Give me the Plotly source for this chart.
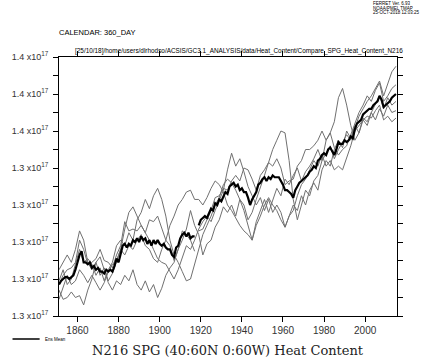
import plotly.graph_objects as go

# ---------------- data (heat content, units of 1e17 J) ----------------
YEARS_MEAN = list(range(1851, 2016))
ENS_MEAN = [
    1.277, 1.279, 1.280, 1.281, 1.281, 1.280, 1.281, 1.282, 1.285, 1.289,
    1.293, 1.295, 1.289, 1.289, 1.288, 1.289, 1.286, 1.287, 1.285, 1.286,
    1.284, 1.284, 1.283, 1.285, 1.284, 1.285, 1.284, 1.287, 1.291, 1.289,
    1.294, 1.298, 1.299, 1.297, 1.299, 1.298, 1.301, 1.300, 1.302, 1.300,
    1.303, 1.301, 1.302, 1.299, 1.301, 1.298, 1.301, 1.299, 1.301, 1.299,
    1.298, 1.299, 1.297, 1.296, 1.296, 1.293, 1.292, 1.297, 1.298, 1.302,
    1.304, 1.305, 1.303, 1.305, 1.302, 1.303, 1.303, None, 1.309, 1.312,
    1.313, 1.314, 1.313, 1.316, 1.318, 1.317, 1.321, 1.320, 1.323, 1.322,
    1.325, 1.327, 1.326, 1.330, 1.331, 1.332, 1.330, 1.331, 1.328, 1.329,
    1.327, 1.327, 1.324, 1.320, 1.323, 1.325, 1.327, 1.331, 1.332, 1.334,
    1.335, 1.333, 1.335, 1.334, 1.336, 1.335, 1.335, 1.335, 1.333, 1.331,
    1.328, 1.328, 1.327, 1.326, 1.324, 1.328, 1.330, 1.332, 1.333, 1.334,
    1.335, 1.336, 1.338, 1.339, 1.341, 1.340, 1.344, 1.345, 1.347, 1.348,
    1.347, 1.350, 1.351, 1.349, 1.347, 1.350, 1.354, 1.353, 1.353, 1.355,
    1.354, 1.355, 1.357, 1.356, 1.361, 1.364, 1.365, 1.366, 1.369, 1.370,
    1.371, 1.372, 1.372, 1.374, 1.375, 1.376, 1.379, 1.377, 1.373, 1.374,
    1.375, 1.376, 1.378, 1.379, 1.380,
]

YEARS_MEMBER = list(range(1851, 2016, 2))
MEMBER_1 = [
    1.285, 1.289, 1.293, 1.289, 1.296, 1.306, 1.301, 1.289, 1.285, 1.289,
    1.282, 1.286, 1.279, 1.283, 1.289, 1.296, 1.307, 1.316, 1.319, 1.314,
    1.309, 1.305, 1.301, 1.296, 1.291, 1.289, 1.288, 1.284, 1.280, 1.285,
    1.291, 1.298, 1.296, 1.301, 1.307, 1.311, 1.314, 1.311, 1.317, 1.323,
    1.328, 1.339, 1.348, 1.341, 1.345, 1.338, 1.330, 1.325, 1.320, 1.324,
    1.317, 1.323, 1.316, 1.320, 1.316, 1.308, 1.314, 1.320, 1.317, 1.325,
    1.320, 1.328, 1.332, 1.328, 1.339, 1.344, 1.341, 1.350, 1.355, 1.351,
    1.360, 1.356, 1.363, 1.359, 1.367, 1.365, 1.370, 1.366, 1.372, 1.368,
    1.374, 1.370, 1.371,
]
MEMBER_2 = [
    1.274, 1.269, 1.270, 1.273, 1.270, 1.271, 1.266, 1.274, 1.280, 1.289,
    1.292, 1.285, 1.278, 1.274, 1.279, 1.277, 1.282, 1.279, 1.285, 1.277,
    1.274, 1.279, 1.273, 1.277, 1.270, 1.275, 1.282, 1.286, 1.289, 1.296,
    1.301, 1.307, 1.317, 1.309, 1.304, 1.293, 1.299, 1.301, 1.308, 1.312,
    1.319, 1.316, 1.320, 1.314, 1.323, 1.317, 1.309, 1.301, 1.311, 1.317,
    1.323, 1.316, 1.323, 1.329, 1.325, 1.334, 1.331, 1.336, 1.340, 1.333,
    1.338, 1.341, 1.345, 1.350, 1.344, 1.355, 1.359, 1.365, 1.378, 1.383,
    1.374, 1.363, 1.355, 1.359, 1.366, 1.363, 1.370, 1.375, 1.379, 1.372,
    1.378, 1.374, 1.376,
]
MEMBER_3 = [
    1.279, 1.285, 1.277, 1.280, 1.288, 1.296, 1.289, 1.291, 1.288, 1.282,
    1.286, 1.279, 1.285, 1.289, 1.298, 1.301, 1.298, 1.305, 1.301, 1.312,
    1.316, 1.323, 1.318, 1.325, 1.329, 1.323, 1.314, 1.301, 1.293, 1.289,
    1.284, 1.279, 1.280, 1.288, 1.296, 1.304, 1.309, 1.314, 1.320, 1.324,
    1.331, 1.334, 1.332, 1.328, 1.323, 1.320, 1.312, 1.316, 1.323, 1.329,
    1.336, 1.343, 1.350, 1.355, 1.360, 1.359, 1.344, 1.323, 1.312, 1.320,
    1.328, 1.325, 1.333, 1.336, 1.344, 1.348, 1.352, 1.345, 1.350, 1.354,
    1.358, 1.355, 1.361, 1.368, 1.372, 1.376, 1.379, 1.383, 1.387, 1.379,
    1.385, 1.392, 1.395,
]
MEMBER_4 = [
    1.269, 1.275, 1.282, 1.277, 1.279, 1.285, 1.282, 1.278, 1.282, 1.278,
    1.274, 1.278, 1.284, 1.288, 1.290, 1.296, 1.293, 1.298, 1.296, 1.301,
    1.304, 1.298, 1.296, 1.291, 1.289, 1.296, 1.301, 1.309, 1.314, 1.320,
    1.323, 1.327, 1.328, 1.323, 1.323, 1.320, 1.324, 1.329, 1.333, 1.331,
    1.327, 1.320, 1.317, 1.313, 1.309, 1.306, 1.304, 1.301, 1.309, 1.314,
    1.320, 1.324, 1.320, 1.317, 1.312, 1.308, 1.314, 1.317, 1.325, 1.331,
    1.334, 1.339, 1.344, 1.341, 1.347, 1.341, 1.344, 1.339, 1.341, 1.339,
    1.345, 1.352, 1.360, 1.363, 1.366, 1.368, 1.367, 1.371, 1.374, 1.366,
    1.368, 1.365, 1.367,
]
YEARS_MEMBER_5 = list(range(1851, 1918, 2)) + [1918] + list(range(1919, 2016, 2))
MEMBER_5 = [
    1.277, 1.282, 1.285, 1.286, 1.289, 1.301, 1.296, 1.288, 1.289, 1.291,
    1.296, 1.290, 1.289, 1.286, 1.293, 1.298, 1.311, 1.306, 1.307, 1.306,
    1.309, 1.305, 1.312, 1.311, 1.314, 1.307, 1.301, 1.298, 1.290, 1.296,
    1.306, 1.304, 1.301, 1.295, None,
    1.306, 1.307, 1.312, 1.317, 1.324, 1.325,
    1.329, 1.328, 1.333, 1.336, 1.333, 1.340, 1.339, 1.334, 1.328, 1.336,
    1.339, 1.343, 1.341, 1.345, 1.340, 1.331, 1.333, 1.334, 1.341, 1.344,
    1.350, 1.350, 1.352, 1.355, 1.360, 1.355, 1.359, 1.351, 1.347, 1.350,
    1.352, 1.358, 1.365, 1.370, 1.374, 1.379, 1.376, 1.382, 1.386, 1.376,
    1.379, 1.383, 1.385,
]

X_TICKS = [1860, 1880, 1900, 1920, 1940, 1960, 1980, 2000]
Y_TICKS = [1.26, 1.28, 1.30, 1.32, 1.34, 1.36, 1.38, 1.40]
Y_TICK_TEXT = ["1.3 x10<sup>17</sup>"] * 5 + ["1.4 x10<sup>17</sup>"] * 3

# ---------------- figure ----------------
W, H = 421, 358
L, R, T, B = 48, 24, 57, 42
PW, PH = W - L - R, H - T - B


def px_x(px):
    return (px - L) / PW


def px_y(py):
    return (H - B - py) / PH


fig = go.Figure()
grey = "#707070"
for yrs, vals in [(YEARS_MEMBER, MEMBER_1), (YEARS_MEMBER, MEMBER_2),
                  (YEARS_MEMBER, MEMBER_3), (YEARS_MEMBER, MEMBER_4),
                  (YEARS_MEMBER_5, MEMBER_5)]:
    fig.add_trace(go.Scatter(x=yrs, y=vals, mode="lines",
                             line=dict(color=grey, width=1),
                             connectgaps=False, showlegend=False, hoverinfo="skip"))
fig.add_trace(go.Scatter(x=YEARS_MEAN, y=ENS_MEAN, mode="lines",
                         line=dict(color="black", width=2.2),
                         connectgaps=False, showlegend=False, name="Ens Mean"))

small = "Liberation Sans, Arial, sans-serif"
tick_font = dict(family=small, size=10, color="#333")

fig.update_layout(
    width=W, height=H,
    margin=dict(l=L, r=R, t=T, b=B, pad=0),
    paper_bgcolor="white", plot_bgcolor="white",
    showlegend=False,
    xaxis=dict(range=[1851, 2015.5], tickvals=X_TICKS, ticks="outside", ticklen=5,
               tickcolor="black", showline=True, linecolor="black", linewidth=1,
               mirror="ticks", showgrid=False, zeroline=False, tickfont=tick_font),
    yaxis=dict(range=[1.26, 1.40], tickvals=Y_TICKS, ticktext=Y_TICK_TEXT,
               ticks="outside", ticklen=5, tickcolor="black", showline=True,
               linecolor="black", linewidth=1, mirror="ticks", showgrid=False,
               zeroline=False, ticklabelstandoff=3,
               tickfont=dict(family=small, size=9, color="#333"),
               minor=dict(dtick=0.01, ticks="outside", ticklen=5, tickcolor="black",
                          showgrid=False)),
)

fig.add_annotation(text="CALENDAR: 360_DAY", xref="paper", yref="paper",
                   x=px_x(46), y=px_y(33), xanchor="left", yanchor="middle",
                   showarrow=False, font=dict(family=small, size=7.5, color="black"))
fig.add_annotation(
    text="[25/10/18]/home/users/dlrhodso/ACSIS/GC3.1_ANALYSIS/data/Heat_Content/Compare_SPG_Heat_Content_N216",
    xref="paper", yref="paper", x=px_x(62), y=px_y(51), xanchor="left", yanchor="middle",
    showarrow=False, font=dict(family=small, size=6.4, color="black"))
for txt, yy in [("FERRET Ver. 6.93", 4), ("NOAA/PMEL TMAP", 8.5), ("25-OCT-2018 12:03:25", 13)]:
    fig.add_annotation(text=txt, xref="paper", yref="paper", x=px_x(370), y=px_y(yy),
                       xanchor="left", yanchor="middle", showarrow=False,
                       font=dict(family=small, size=4.5, color="black"))
fig.add_annotation(text="N216 SPG (40:60N 0:60W) Heat Content", xref="paper", yref="paper",
                   x=0.5, y=px_y(350), xanchor="center", yanchor="middle", showarrow=False,
                   font=dict(family="DejaVu Serif, serif", size=13, color="#222"))
fig.add_annotation(text="Ens Mean", xref="paper", yref="paper", x=px_x(31), y=px_y(339),
                   xanchor="left", yanchor="middle", showarrow=False,
                   font=dict(family=small, size=4.5, color="black"))
fig.add_shape(type="line", xref="paper", yref="paper", x0=px_x(0), x1=px_x(28),
              y0=px_y(339), y1=px_y(339), line=dict(color="black", width=1.5))

fig.write_html("out.html", config={"displayModeBar": False},
               post_script="document.body.style.margin='0px';document.body.style.padding='0px';")
